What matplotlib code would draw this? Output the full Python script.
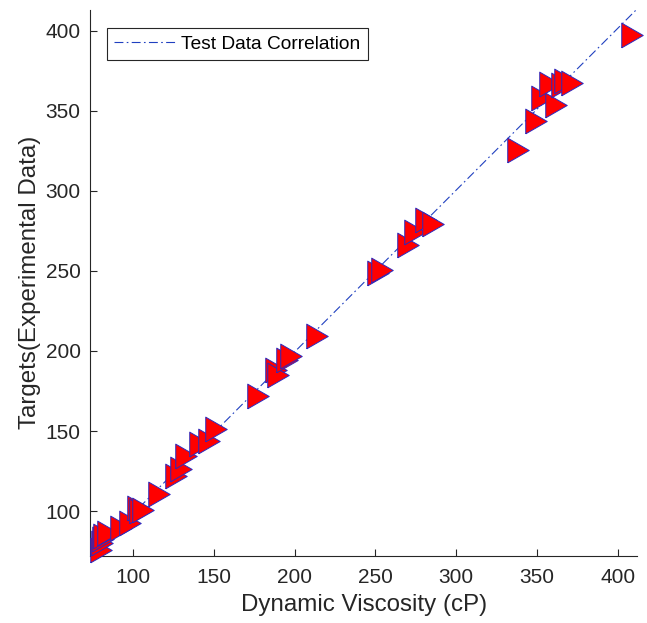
import numpy as np
import matplotlib
matplotlib.use("Agg")
import matplotlib.pyplot as plt

plt.rcParams['font.family'] = ['Liberation Sans', 'DejaVu Sans']

# network outputs vs. measured targets (cP)
viscosity_pred = [80.5, 80.8, 81.3, 81.8, 84.6, 92.6, 98.2, 103.4, 104.5, 105.9,
                  116.4, 126.5, 129.6, 132.9, 141.5, 147.1, 151.1, 177.4, 188.5, 190.0,
                  195.0, 198.0, 213.7, 251.5, 254.0, 269.9, 274.4, 281.4, 285.8, 338.3,
                  349.3, 352.8, 357.9, 361.6, 365.2, 367.3, 371.7, 408.7]
targets_exp = [75.9, 80.0, 82.7, 84.5, 86.6, 89.2, 92.6, 102.2, 99.8, 100.9,
               110.4, 122.1, 126.4, 134.3, 142.1, 143.9, 151.4, 171.8, 188.0, 185.0,
               194.5, 197.0, 209.3, 248.5, 250.5, 266.4, 274.1, 282.0, 279.4, 325.5,
               343.9, 358.0, 366.8, 353.6, 366.2, 368.6, 367.3, 397.4]

# linear correlation of the test data
fit_slope = 1.011
fit_intercept = -2.8

x_lim = (73.6, 411.9)
y_lim = (72.1, 413.0)
x_ticks = [100, 150, 200, 250, 300, 350, 400]
y_ticks = [100, 150, 200, 250, 300, 350, 400]

axis_col = '#262626'

fig = plt.figure(figsize=(6.47, 6.23), dpi=100)
ax = fig.add_axes([0.1396, 0.1080, 0.8450, 0.8759])

xs = np.array(x_lim)
ax.plot(xs, fit_slope * xs + fit_intercept, color='#2040c0', lw=0.8,
        linestyle=(0, (8, 3, 1.5, 3)), label='Test Data Correlation', zorder=1)

# right-pointing triangle, slightly narrower than tall
tri = [(-0.87, -1.0), (0.87, 0.0), (-0.87, 1.0), (-0.87, -1.0)]
ax.plot(viscosity_pred, targets_exp, linestyle='none', marker=tri,
        markersize=17.8, markerfacecolor='#ff0000', markeredgecolor='#2a2ac0',
        markeredgewidth=0.7, clip_on=False, zorder=3)

ax.set_xlim(*x_lim)
ax.set_ylim(*y_lim)
ax.set_xticks(x_ticks)
ax.set_yticks(y_ticks)

for side in ['top', 'right']:
    ax.spines[side].set_visible(False)
for side in ['left', 'bottom']:
    ax.spines[side].set_color(axis_col)
    ax.spines[side].set_linewidth(0.8)

ax.tick_params(axis='both', direction='in', length=5, width=0.8,
               colors=axis_col, labelsize=15)
ax.tick_params(axis='x', pad=9)
ax.tick_params(axis='y', pad=7)

ax.set_xlabel('Dynamic Viscosity (cP)', fontsize=17.4, color=axis_col, labelpad=5)
ax.set_ylabel('Targets(Experimental Data)', fontsize=17.4, color=axis_col, labelpad=3)

leg = ax.legend(loc='upper left', bbox_to_anchor=(0.030, 0.9676), borderaxespad=0,
                fontsize=13.8, handlelength=3.2, handletextpad=0.26,
                borderpad=0.4, fancybox=False, framealpha=1)
leg.get_frame().set_edgecolor(axis_col)
leg.get_frame().set_linewidth(0.8)

fig.savefig('out.png', dpi=100)
